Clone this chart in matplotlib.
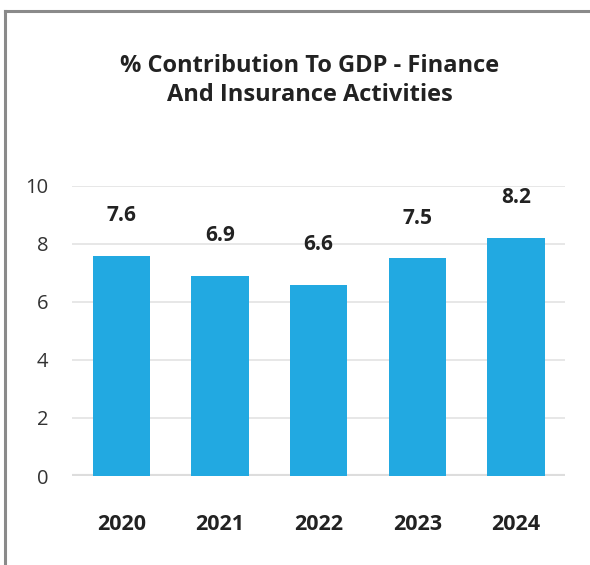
import matplotlib.pyplot as plt
from matplotlib.lines import Line2D

plt.rcParams['font.family'] = ['Open Sans', 'DejaVu Sans']

years = ['2020', '2021', '2022', '2023', '2024']
values = [7.6, 6.9, 6.6, 7.5, 8.2]
yticks = [0, 2, 4, 6, 8, 10]

fig = plt.figure(figsize=(5.9, 5.65), dpi=100)
ax = fig.add_axes([0.122, 0.1575, 0.836, 0.5135])

x = range(len(years))
ax.bar(x, values, width=0.58, color='#22A9E1', zorder=3)
for i, v in enumerate(values):
    ax.annotate(f'{v}', (i, v), xytext=(0, 29), textcoords='offset points',
                ha='center', va='center', fontsize=15, fontweight='bold',
                color='#222222', annotation_clip=False)

ax.set_xlim(-0.5, 4.5)
ax.set_ylim(0, 10)
ax.set_yticks(yticks)
ax.set_yticklabels([str(t) for t in yticks], fontsize=14.5, color='#333333')
ax.set_xticks(list(x))
ax.set_xticklabels(years, fontsize=15.5, fontweight='bold', color='#222222')
ax.tick_params(axis='both', length=0)
ax.tick_params(axis='y', pad=17)
ax.tick_params(axis='x', pad=27)
ax.grid(axis='y', color='#e3e3e3', linewidth=1.2, zorder=0)
ax.axhline(0, color='#dddddd', linewidth=3, zorder=2)
for s in ax.spines.values():
    s.set_visible(False)

fig.text(0.5246, 0.8575, '% Contribution To GDP - Finance\nAnd Insurance Activities',
         ha='center', va='center', fontsize=17, fontweight='bold',
         color='#222222', linespacing=1.3)

# frame around the card
fig.add_artist(Line2D([0.008, 1.0], [0.9805, 0.9805], color='#8a8a8a', linewidth=2.2))
fig.add_artist(Line2D([0.008, 0.008], [0.0, 0.9805], color='#8a8a8a', linewidth=2.2))

fig.savefig('out.png', dpi=100)
